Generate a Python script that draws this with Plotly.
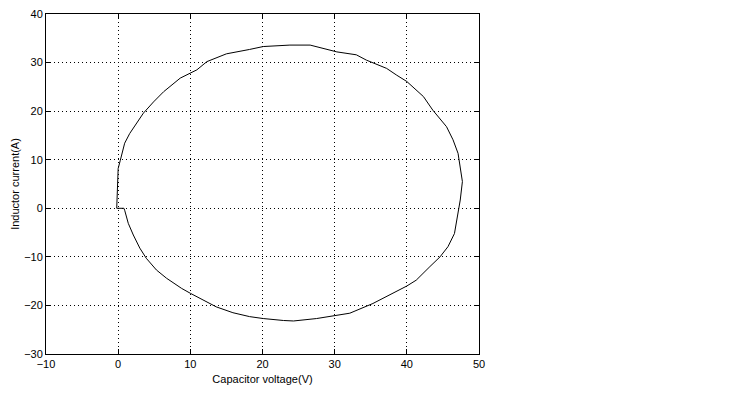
import plotly.graph_objects as go

# phase-plane trajectory
capacitor_voltage = [
    -0.2, 0.0, 0.3, 0.9, 1.6, 2.6, 3.5, 4.9, 6.3, 8.6, 10.9, 12.3, 15.0, 18.2,
    20.1, 23.8, 26.6, 30.3, 33.0, 34.4, 37.2, 38.6, 40.0, 42.3, 43.6, 45.5,
    46.4, 47.1, 47.4, 47.7, 47.4, 47.1, 46.6, 45.7, 44.6, 43.2, 41.3, 40.0,
    37.6, 35.3, 32.1, 30.1, 27.5, 24.3, 22.9, 20.1, 18.2, 15.9, 13.6, 10.0,
    8.8, 6.7, 5.3, 3.9, 3.0, 2.1, 1.4, 0.9, 0.8, -0.2,
]
inductor_current = [
    0.0, 8.2, 9.9, 13.4, 15.4, 17.5, 19.6, 21.9, 24.0, 26.8, 28.5, 30.2, 31.8, 32.7,
    33.3, 33.6, 33.6, 32.2, 31.6, 30.5, 28.8, 27.4, 26.1, 23.0, 20.2, 16.8,
    14.1, 11.3, 8.6, 5.5, 1.7, -1.0, -5.2, -7.9, -10.0, -12.0, -14.8, -16.0,
    -17.9, -19.6, -21.6, -22.1, -22.7, -23.2, -23.1, -22.7, -22.3, -21.5, -20.3, -17.5,
    -16.5, -14.4, -12.7, -10.3, -8.2, -5.5, -3.1, -0.4, 0.0, 0.0,
]

x_ticks = [-10, 0, 10, 20, 30, 40, 50]
y_ticks = [-30, -20, -10, 0, 10, 20, 30, 40]

fig = go.Figure()

fig.add_trace(go.Scatter(
    x=capacitor_voltage,
    y=inductor_current,
    mode='lines',
    line=dict(color='black', width=1),
    showlegend=False,
    hoverinfo='skip'
))

axis_style = dict(
    showline=True,
    linecolor='black',
    linewidth=1,
    mirror='ticks',
    ticks='inside',
    ticklen=5,
    tickcolor='black',
    showgrid=True,
    gridcolor='black',
    griddash='1px,3px',
    gridwidth=1,
    zeroline=False,
    automargin=False,
    ticklabeloverflow='allow',
    tickfont=dict(size=11, color='black'),
)

fig.update_xaxes(
    range=[-10, 50],
    tickvals=x_ticks,
    title=dict(text='Capacitor voltage(V)', font=dict(size=11, color='black'), standoff=6),
    **axis_style
)
fig.update_yaxes(
    range=[-30, 40],
    tickvals=y_ticks,
    title=dict(text='Inductor current(A)', font=dict(size=11, color='black'), standoff=2),
    **axis_style
)

# the page body adds 8px, so margins are trimmed to land the axes where the reference has them
fig.update_layout(
    width=750,
    height=415,
    margin=dict(l=38, r=279, t=6, b=69),
    plot_bgcolor='white',
    paper_bgcolor='white',
    font=dict(family='Liberation Sans, Arial, sans-serif', size=11, color='black'),
)

fig.write_html("out.html")
